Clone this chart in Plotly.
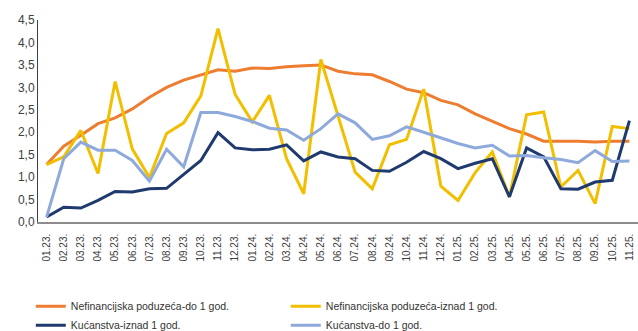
import plotly.graph_objects as go

months = ["01.23.", "02.23.", "03.23.", "04.23.", "05.23.", "06.23.", "07.23.", "08.23.", "09.23.",
          "10.23.", "11.23.", "12.23.", "01.24.", "02.24.", "03.24.", "04.24.", "05.24.", "06.24.",
          "07.24.", "08.24.", "09.24.", "10.24.", "11.24.", "12.24.", "01.25.", "02.25.", "03.25.",
          "04.25.", "05.25.", "06.25.", "07.25.", "08.25.", "09.25.", "10.25.", "11.25."]

nfp_do_1 = [1.28, 1.69, 1.93, 2.19, 2.32, 2.52, 2.78, 3.00, 3.16, 3.28, 3.39, 3.36, 3.43, 3.42,
            3.46, 3.48, 3.50, 3.36, 3.30, 3.28, 3.13, 2.96, 2.88, 2.71, 2.61, 2.41, 2.24, 2.08,
            1.96, 1.80, 1.80, 1.80, 1.78, 1.80, 1.80]
nfp_iznad_1 = [1.28, 1.45, 2.04, 1.08, 3.13, 1.63, 0.99, 1.97, 2.21, 2.81, 4.31, 2.84, 2.23, 2.82,
               1.41, 0.63, 3.62, 2.38, 1.11, 0.74, 1.72, 1.84, 2.96, 0.80, 0.48, 1.10, 1.56, 0.56,
               2.39, 2.45, 0.78, 1.15, 0.41, 2.13, 2.08]
kuc_iznad_1 = [0.11, 0.33, 0.31, 0.48, 0.68, 0.67, 0.74, 0.75, 1.06, 1.37, 1.99, 1.65, 1.61, 1.62,
               1.72, 1.36, 1.56, 1.45, 1.41, 1.15, 1.13, 1.33, 1.57, 1.41, 1.19, 1.31, 1.41, 0.56,
               1.65, 1.45, 0.74, 0.73, 0.89, 0.93, 2.26]
kuc_do_1 = [0.11, 1.41, 1.78, 1.60, 1.60, 1.37, 0.91, 1.62, 1.23, 2.44, 2.44, 2.35, 2.24, 2.09,
            2.05, 1.82, 2.08, 2.41, 2.21, 1.84, 1.92, 2.12, 2.00, 1.87, 1.75, 1.65, 1.71, 1.47,
            1.48, 1.43, 1.39, 1.32, 1.59, 1.35, 1.36]

y_ticks = [0, 0.5, 1.0, 1.5, 2.0, 2.5, 3.0, 3.5, 4.0, 4.5]

series = [
    ("Nefinancijska poduzeća-do 1 god.", nfp_do_1, "#ED7D31"),
    ("Nefinancijska poduzeća-iznad 1 god.", nfp_iznad_1, "#F2BF00"),
    ("Kućanstva-iznad 1 god.", kuc_iznad_1, "#1F3A6E"),
    ("Kućanstva-do 1 god.", kuc_do_1, "#8EA9DB"),
]

fig = go.Figure()
for name, vals, color in series:
    fig.add_trace(go.Scatter(x=months, y=vals, name=name, mode="lines",
                             line=dict(color=color, width=3)))

fig.update_layout(
    width=638, height=331,
    margin=dict(l=38, r=0, t=20, b=109, autoexpand=False),
    paper_bgcolor="white", plot_bgcolor="white",
    separators=",.",
    font=dict(family="Liberation Sans, Arial, sans-serif", color="#404040"),
    showlegend=True,
    legend=dict(orientation="h", x=-0.012, xanchor="left", y=-0.345, yanchor="top",
                entrywidth=210, entrywidthmode="pixels", tracegroupgap=0,
                font=dict(size=10.5, color="#333333"), itemwidth=30),
)
fig.update_xaxes(type="category", range=[-0.5, 34.5], showgrid=False, automargin=False,
                 showline=True, linecolor="#8c8c8c", linewidth=1.5, ticklabelstandoff=6,
                 tickangle=-90, tickfont=dict(size=10, color="#404040"), ticks="")
fig.update_yaxes(range=[0, 4.5], tickvals=y_ticks, tickformat=".1f", showgrid=False,
                 automargin=False,
                 showline=True, linecolor="#404040", linewidth=1, zeroline=False,
                 tickfont=dict(size=12, color="#404040"), ticks="")

fig.write_html("out.html")
